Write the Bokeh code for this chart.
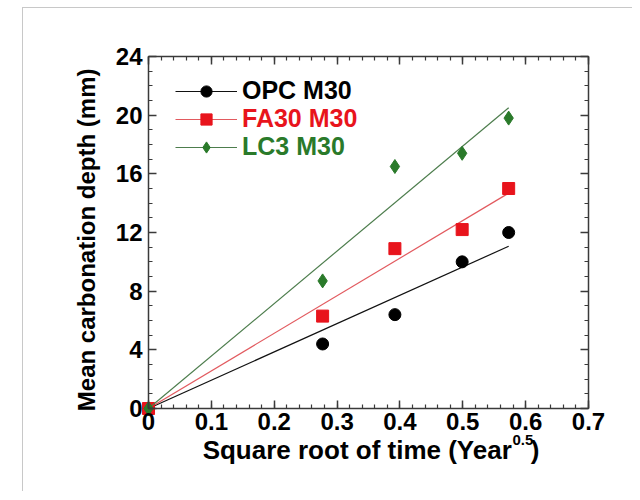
import math
import numpy as np
from bokeh.plotting import figure
from bokeh.models import (LinearAxis, SingleIntervalTicker,
                          CustomJSTickFormatter, Legend, LegendItem, Label, Range1d)
from bokeh.embed import file_html
from bokeh.resources import INLINE

# ---- data ----
sqrt_time = [0.0, 0.277, 0.392, 0.499, 0.573]      # Year^0.5
opc_m30 = [0.0, 4.4, 6.4, 10.0, 12.0]              # mm
fa30_m30 = [0.0, 6.3, 10.9, 12.2, 15.0]            # mm
lc3_m30 = [0.0, 8.7, 16.5, 17.4, 19.8]             # mm
series_names = ["OPC M30", "FA30 M30", "LC3 M30"]
x_ticks_interval = 0.1
y_ticks_interval = 4
x_lim = (0, 0.7)
y_lim = (0, 24)

FONT = "Liberation Sans"

# the frame covers the whole canvas; the axes box is drawn with fixed-location axes,
# so that every text (tick labels, titles) lies inside the frame
p = figure(width=610, height=484, output_backend="svg", toolbar_location=None,
           x_range=Range1d(-0.1989, 0.7716),
           y_range=Range1d(-5.727, 27.273),
           x_axis_type=None, y_axis_type=None, min_border=0)
p.outline_line_color = None
p.background_fill_color = "white"
p.border_fill_color = "white"
p.margin = (7, 0, 0, 22)
p.styles = {"border-left": "1px solid #c8c8c8", "border-top": "1px solid #c8c8c8"}

label_fmt = "var v = Math.round(tick*10)/10; return v.toString();"
blank_fmt = "return '';"
xb_bounds = (x_lim[0], x_lim[1] + 1e-5)
yb_bounds = (y_lim[0], y_lim[1] + 1e-4)


def make_axis(interval, minor, fmt, **kw):
    ax = LinearAxis(ticker=SingleIntervalTicker(interval=interval, num_minor_ticks=minor),
                    formatter=CustomJSTickFormatter(code=fmt), **kw)
    ax.major_tick_in = 8
    ax.major_tick_out = 0
    ax.minor_tick_in = 4
    ax.minor_tick_out = 0
    for attr in ("axis_line", "major_tick_line", "minor_tick_line"):
        setattr(ax, attr + "_color", "#3a3a3a")
    ax.axis_line_width = 1.5
    ax.major_tick_line_width = 1.5
    ax.minor_tick_line_width = 1.2
    ax.major_label_text_font = FONT
    ax.major_label_text_font_style = "bold"
    ax.major_label_text_font_size = "24px"
    ax.major_label_text_color = "black"
    ax.major_label_standoff = 4
    return ax


xb = make_axis(x_ticks_interval, 5, label_fmt, fixed_location=y_lim[0], bounds=xb_bounds)
yl = make_axis(y_ticks_interval, 4, label_fmt, fixed_location=x_lim[0], bounds=yb_bounds)
yl.major_label_standoff = 6
xt = make_axis(x_ticks_interval, 5, blank_fmt, fixed_location=y_lim[1], bounds=xb_bounds)
yr = make_axis(y_ticks_interval, 4, blank_fmt, fixed_location=x_lim[1], bounds=yb_bounds)
for ax in (xt, yr):
    ax.major_label_standoff = 0
    ax.major_label_text_font_size = "1px"
p.add_layout(xb, "below")
p.add_layout(yl, "left")
p.add_layout(xt, "above")
p.add_layout(yr, "right")

x = np.array(sqrt_time)
colors = ["black", "#e8141c", "#2a7a2a"]
line_colors = ["#111111", "#e25a5f", "#4d7d4d"]
markers = ["circle", "square", "diamond"]
sizes = [12, 12, 14]
legend_y = [387, 359, 331]   # screen px from frame bottom

for name, vals, col, lcol, mk, sz, ly in zip(series_names, [opc_m30, fa30_m30, lc3_m30],
                                              colors, line_colors, markers, sizes, legend_y):
    y = np.array(vals)
    slope = float(np.sum(x * y) / np.sum(x * x))   # least-squares fit through origin
    fit_x = [0.0, float(x.max())]
    fit_y = [0.0, slope * float(x.max())]
    lr = p.line(fit_x, fit_y, line_color=lcol, line_width=1.2)
    sr = p.scatter(x=sqrt_time, y=vals, marker=mk, size=sz, fill_color=col, line_color=col)
    lg = Legend(items=[LegendItem(label=name, renderers=[lr, sr])], location=(152, ly),
                border_line_color=None, background_fill_alpha=0, padding=0, margin=0,
                spacing=0, glyph_width=62, glyph_height=28, label_height=28,
                label_standoff=5, label_text_font=FONT, label_text_font_style="bold",
                label_text_font_size="25px", label_text_color=col)
    p.add_layout(lg)

# axis titles
common = dict(text_baseline="alphabetic", text_font=FONT, text_font_style="bold",
              text_color="black")
lab_y = Label(x=-0.098, y=11.5, text="Mean carbonation depth (mm)", text_align="center",
              angle=math.pi / 2, text_font_size="24px", **common)
lab_main = Label(x=0.578, y=-2.86, text="Square root of time (Year", text_align="right",
                 text_font_size="26px", **common)
lab_sup = Label(x=0.579, y=-2.15, text="0.5", text_align="left",
                text_font_size="15px", **common)
lab_close = Label(x=0.608, y=-2.86, text=")", text_align="left",
                  text_font_size="26px", **common)
for lab in (lab_y, lab_main, lab_sup, lab_close):
    p.add_layout(lab)

open("out.html", "w").write(file_html(p, INLINE))
